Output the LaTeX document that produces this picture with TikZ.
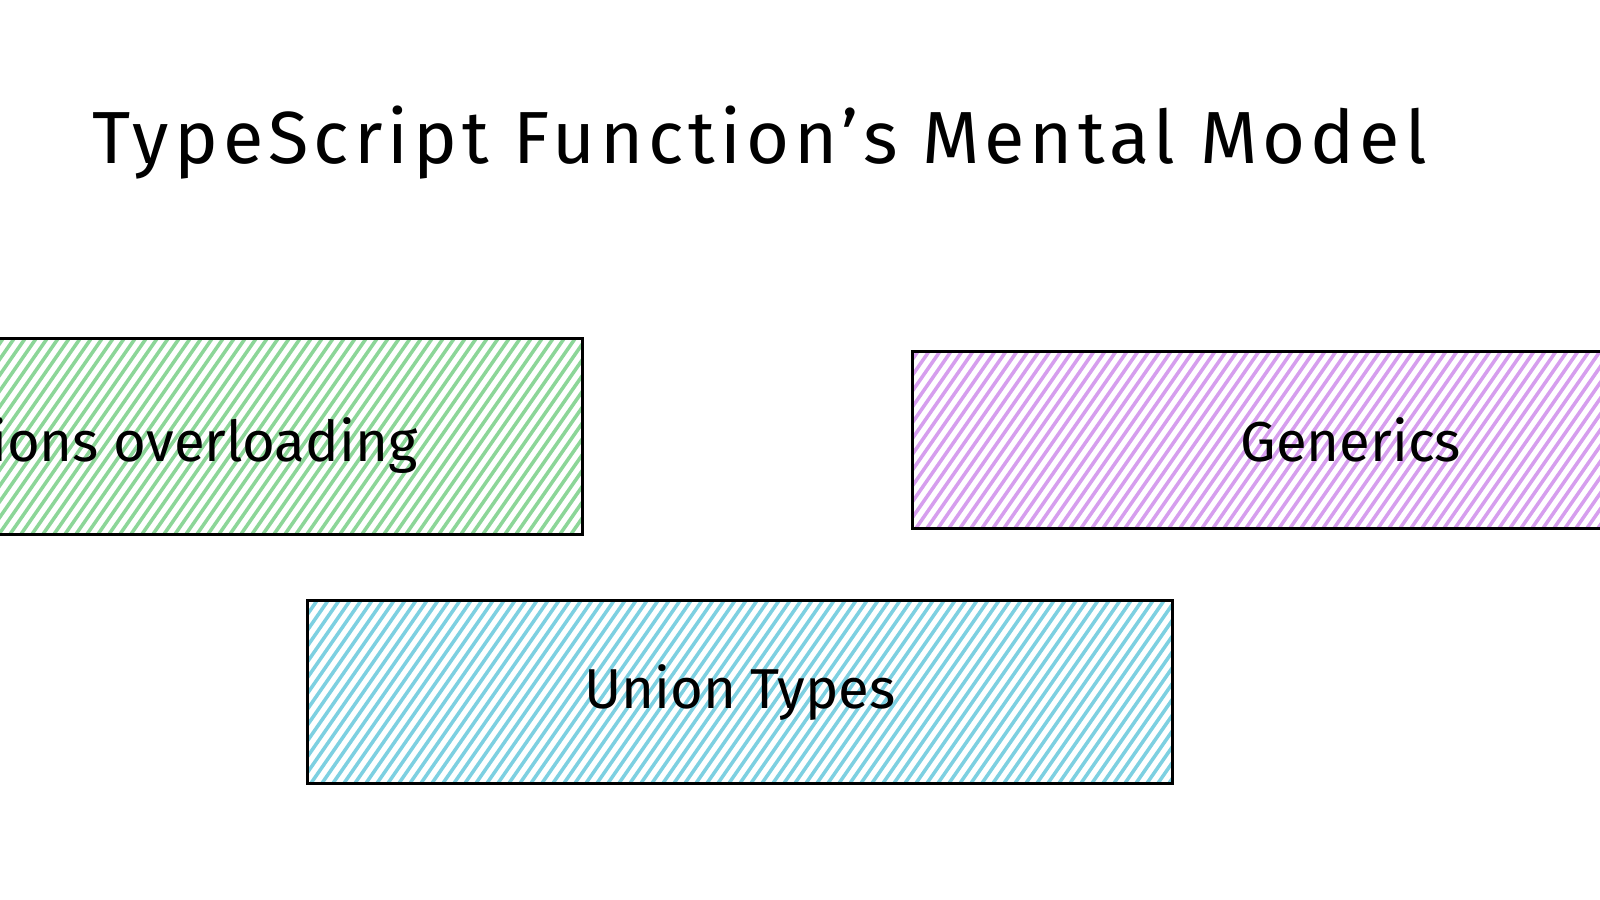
\documentclass[tikz,border=0pt]{standalone}
\usepackage{fontspec}
\setmainfont{Fira Sans}
\usetikzlibrary{calc}
\definecolor{hgreen}{RGB}{140,214,152}
\definecolor{hpurple}{RGB}{214,158,238}
\definecolor{hblue}{RGB}{125,208,225}
\begin{document}
\begin{tikzpicture}[x=0.01cm,y=-0.01cm,
  box/.style={draw=black, line width=0.95pt, rectangle, inner sep=0pt, anchor=north west},
  hatched/.style={path picture={\foreach \i in {-25,...,210}{\draw[#1, line width=1pt] ($(path picture bounding box.south west)+(\i*11,20)$) -- ++(160,-230);}}},
  lbl/.style={font=\fontsize{16}{19}\selectfont, inner sep=0pt},
  ttl/.style={font=\fontsize{21}{25}\selectfont\addfontfeatures{LetterSpace=6.8}, inner sep=0pt}
]
\useasboundingbox (0,0) rectangle (1600,900);
\clip (0,0) rectangle (1600,900);
\fill[white] (0,0) rectangle (1600,900);

\node[ttl, anchor=base west] (title) at (92,163) {TypeScript Function's Mental Model};

\node[box, hatched=hgreen, minimum width=8.72cm, minimum height=1.96cm] (over) at (-292,337) {};
\node[lbl, anchor=east] (overtext) at (418,446) {Functions overloading};

\node[box, hatched=hpurple, minimum width=8.76cm, minimum height=1.77cm, lbl] (gen) at (911,350) {Generics};

\node[box, hatched=hblue, minimum width=8.64cm, minimum height=1.83cm, lbl] (union) at (306,599) {Union Types};
\end{tikzpicture}
\end{document}
